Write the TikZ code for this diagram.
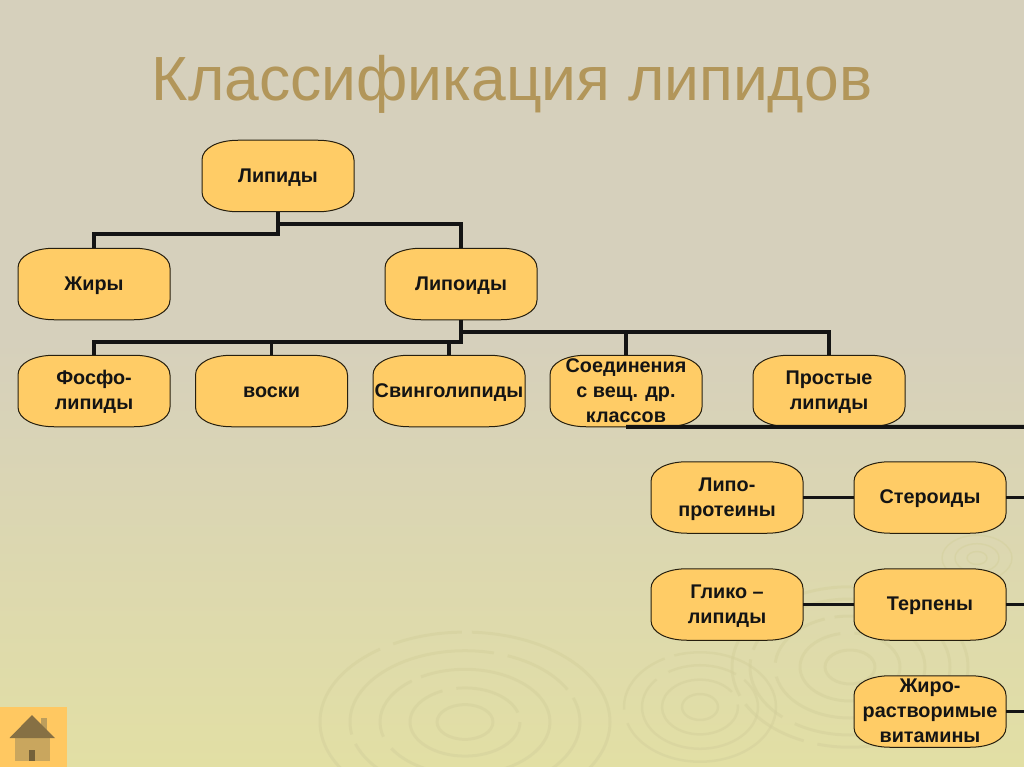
\documentclass[tikz,border=0pt]{standalone}
\usepackage{fontspec}
\setmainfont{Liberation Sans}
\definecolor{bgtop}{HTML}{D6D0BC}
\definecolor{bgbot}{HTML}{E2DFA4}
\definecolor{boxfill}{HTML}{FFCC66}
\definecolor{titlecol}{HTML}{B2965A}
\definecolor{ripple}{HTML}{D4D09C}
\tikzset{
  x=1pt,y=-1pt,
  boxedge/.style={draw=black!85!boxfill,line width=1pt,fill=boxfill},
  boxlabel/.style={inner sep=0pt,minimum width=152pt,minimum height=71.5pt,font=\bfseries\fontsize{19.8}{25}\selectfont,text=black!92},
  link/.style={line width=3.4pt,draw=black!92},
  thinlink/.style={line width=3pt,draw=black!92},
  ringline/.style={draw=ripple,line width=3pt,opacity=.5,dash pattern=on 190pt off 14pt on 70pt off 10pt}
}
% \lbox{name}{cx}{cy}{text}: a box with elliptical corners, label centred
\newcommand{\lbox}[4]{%
  \path[boxedge] (#2-76,#3-16)
    .. controls (#2-76,#3-28) and (#2-60,#3-35.75) .. (#2-40,#3-35.75)
    -- (#2+40,#3-35.75)
    .. controls (#2+60,#3-35.75) and (#2+76,#3-28) .. (#2+76,#3-16)
    -- (#2+76,#3+16)
    .. controls (#2+76,#3+28) and (#2+60,#3+35.75) .. (#2+40,#3+35.75)
    -- (#2-40,#3+35.75)
    .. controls (#2-60,#3+35.75) and (#2-76,#3+28) .. (#2-76,#3+16) -- cycle;
  \node[boxlabel] (#1) at (#2,#3) {\raisebox{-6.5pt}[0pt][0pt]{\begin{tabular}{@{}c@{}}#4\end{tabular}}};%
}
\begin{document}
\begin{tikzpicture}
\useasboundingbox (0,0) rectangle (1024,767);
\begin{scope}
\clip (0,0) rectangle (1024,767);
\fill[bgtop] (0,0) rectangle (1024,340);
\shade[top color=bgtop,bottom color=bgbot] (0,339) rectangle (1024,767);
% ripples
\foreach \r in {28,55,85,115,145}{
  \draw[ringline] (465,722) ellipse ({\r} and {\r*0.62});
}
\foreach \r in {18,38,58,76}{
  \draw[ringline,line width=2.5pt] (700,707) ellipse ({\r} and {\r*0.72});
}
\foreach \r in {25,50,75,100,118}{
  \draw[ringline] (850,667) ellipse ({\r} and {\r*0.68});
}
\foreach \r in {10,22,35}{
  \draw[ringline,line width=1.5pt,solid] (977,558) ellipse ({\r} and {\r*0.65});
}
% home button
\fill[boxfill!95!orange] (0,707) rectangle (67,767);
\fill[titlecol!85!boxfill] (41,718) rectangle (47,730);
\fill[titlecol!70!boxfill] (15,737) rectangle (50,761);
\fill[titlecol!65!black] (29,750) rectangle (35,761);
\fill[titlecol!75!black] (32,715) -- (55,738) -- (9.5,738) -- cycle;
\end{scope}
% title
\node[inner sep=0pt,text=titlecol,font=\fontsize{62.4}{66}\selectfont] (title) at (512,84) {Классификация липидов};
% boxes
\lbox{lip}{278}{176}{Липиды}
\lbox{zhir}{94}{284}{Жиры}
\lbox{lpd}{461}{284}{Липоиды}
\lbox{fos}{94}{391}{Фосфо-\\липиды}
\lbox{vos}{271.5}{391}{воски}
\lbox{svi}{449}{391}{Свинголипиды}
\lbox{soe}{626}{391}{Соединения\\с вещ. др.\\классов}
\lbox{pro}{829}{391}{Простые\\липиды}
\lbox{lpr}{727}{497.5}{Липо-\\протеины}
\lbox{ste}{930}{497.5}{Стероиды}
\lbox{gli}{727}{604.5}{Глико –\\липиды}
\lbox{ter}{930}{604.5}{Терпены}
\lbox{zhr}{930}{711.5}{Жиро-\\растворимые\\витамины}
% free ends at the right edge of the slide
\coordinate (e0) at (1024,426.75);
\coordinate (e1) at (1024,497.5);
\coordinate (e2) at (1024,604.5);
\coordinate (e3) at (1024,711.5);
% connectors
\draw[link] (lip.south) -- ++(0,22) -| (zhir.north);
\draw[link] (lip.south) ++(0,12) -| (lpd.north);
\draw[link] (lpd.south) -- ++(0,22) -| (fos.north);
\draw[link] (lpd.south) ++(0,22) -| (vos.north);
\draw[link] (lpd.south) ++(0,22) -| (svi.north);
\draw[link] (lpd.south) ++(0,12) -| (soe.north);
\draw[link] (lpd.south) ++(0,12) -| (pro.north);
\draw[link,line width=4pt] (soe.south) -- (e0);
\draw[thinlink] (lpr.east) -- (ste.west);
\draw[thinlink] (ste.east) -- (e1);
\draw[thinlink] (gli.east) -- (ter.west);
\draw[thinlink] (ter.east) -- (e2);
\draw[thinlink] (zhr.east) -- (e3);
\end{tikzpicture}
\end{document}
